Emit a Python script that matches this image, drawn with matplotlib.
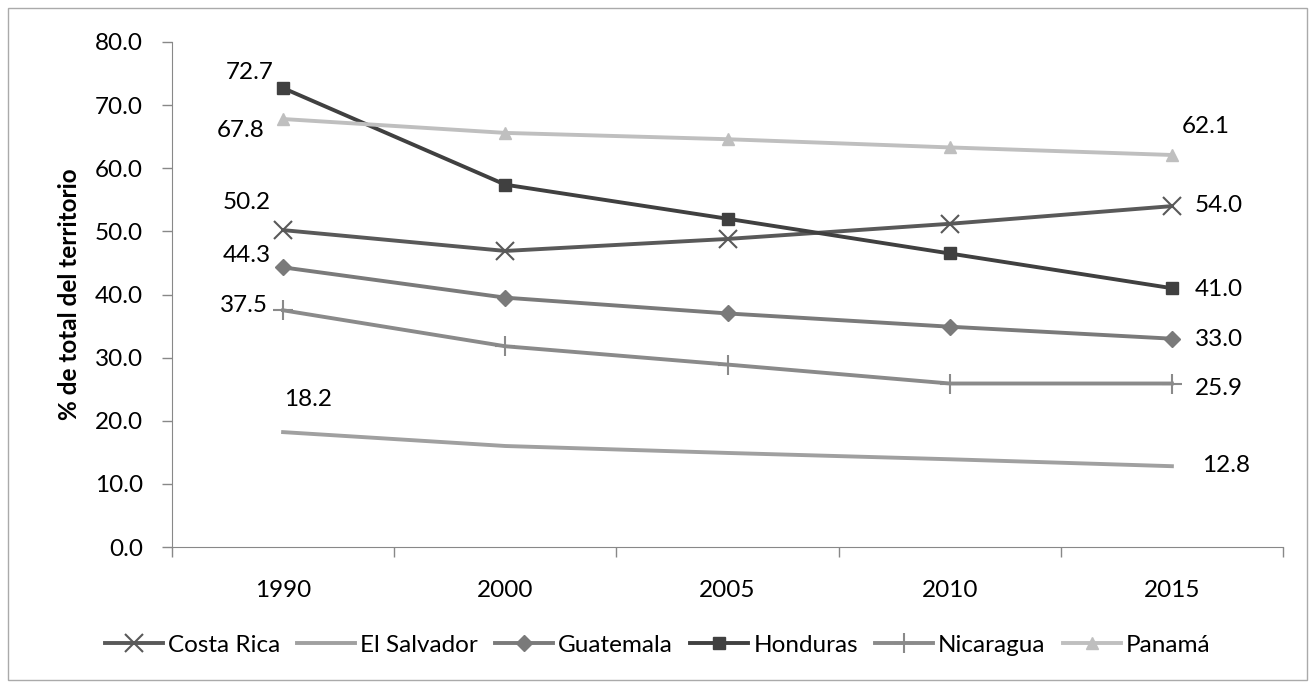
import matplotlib
matplotlib.use("Agg")
import matplotlib.pyplot as plt
from matplotlib.patches import Rectangle

plt.rcParams['font.family'] = ['Lato', 'DejaVu Sans']
FS = 17.5

years = ["1990", "2000", "2005", "2010", "2015"]
costa_rica = [50.2, 46.9, 48.8, 51.2, 54.0]
el_salvador = [18.2, 16.0, 14.9, 13.9, 12.8]
guatemala = [44.3, 39.5, 37.0, 34.9, 33.0]
honduras = [72.7, 57.4, 52.0, 46.5, 41.0]
nicaragua = [37.5, 31.8, 28.9, 25.9, 25.9]
panama = [67.8, 65.6, 64.6, 63.3, 62.1]

series = [
    ("Costa Rica", costa_rica, "#595959", "x", 13),
    ("El Salvador", el_salvador, "#a0a0a0", None, 0),
    ("Guatemala", guatemala, "#7a7a7a", "D", 8),
    ("Honduras", honduras, "#404040", "s", 8.5),
    ("Nicaragua", nicaragua, "#8a8a8a", "+", 15),
    ("Panamá", panama, "#bfbfbf", "^", 8),
]

fig = plt.figure(figsize=(13.15, 6.88), dpi=100)
ax = fig.add_axes([172/1315, 1-547/688, (1283-172)/1315, (547-42)/688])

x = list(range(len(years)))
for name, vals, col, mk, ms in series:
    ax.plot(x, vals, color=col, lw=2.8, marker=mk, markersize=ms,
            markeredgewidth=1.5 if mk in ("x", "+") else 1.0,
            markeredgecolor=col, markerfacecolor=col, label=name)

ax.set_xlim(-0.5, len(years) - 0.5)
ax.set_ylim(0, 80)
yt = [0, 10, 20, 30, 40, 50, 60, 70, 80]
ax.set_yticks(yt)
ax.set_yticklabels([f"{v:.1f}" for v in yt])
ax.set_xticks(x)
ax.set_xticklabels(years)
ax.set_xticks([i - 0.5 for i in range(len(years) + 1)], minor=True)
ax.tick_params(axis='x', which='major', length=0, pad=24, labelsize=FS)
ax.tick_params(axis='x', which='minor', length=7, color="#888888", width=1)
ax.tick_params(axis='y', length=7, color="#888888", width=1, pad=14, labelsize=FS)
for s in ["top", "right"]:
    ax.spines[s].set_visible(False)
for s in ["left", "bottom"]:
    ax.spines[s].set_color("#888888")
ax.set_ylabel("% de total del territorio", fontsize=FS, fontweight="bold", labelpad=10)

# data labels
first_offsets = {
    "Honduras": (-33, 16), "Panamá": (-42, -11), "Costa Rica": (-36, 28),
    "Guatemala": (-36, 12), "Nicaragua": (-39, 5), "El Salvador": (25, 33),
}
last_offsets = {
    "Panamá": (34, 28), "Costa Rica": (47, 1), "Honduras": (47, -1),
    "Guatemala": (47, -1), "Nicaragua": (47, -5), "El Salvador": (54, 1),
}
for name, vals, col, mk, ms in series:
    ax.annotate(f"{vals[0]:.1f}", (0, vals[0]), xytext=first_offsets[name],
                textcoords="offset pixels", ha="center", va="center", fontsize=FS)
    ax.annotate(f"{vals[-1]:.1f}", (len(years) - 1, vals[-1]), xytext=last_offsets[name],
                textcoords="offset pixels", ha="center", va="center", fontsize=FS)

leg = fig.legend(loc="center", bbox_to_anchor=(0.5, 1 - 645/688), ncol=6, frameon=False,
                 fontsize=FS, handlelength=2.4, handletextpad=0.2, columnspacing=0.7)

fig.patches.append(Rectangle((8/1315, 8/688), 1299/1315, 672/688, transform=fig.transFigure,
                             fill=False, edgecolor="#aaaaaa", lw=1))

fig.savefig("out.png", dpi=100)
